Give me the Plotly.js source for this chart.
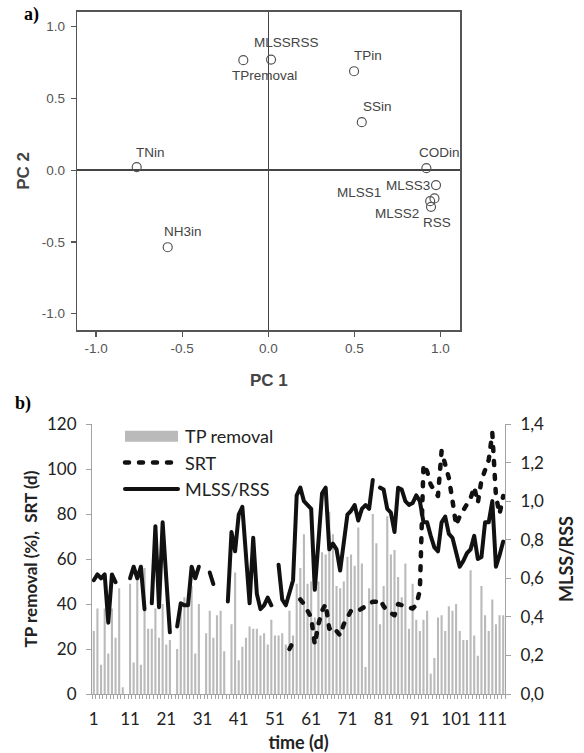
<!DOCTYPE html>
<html>
<head>
<meta charset="utf-8">
<script src="https://cdn.plot.ly/plotly-3.0.1.min.js"></script>
<style>
html,body{margin:0;padding:0;background:#ffffff;}
#chart{width:584px;height:753px;}
.scatterlayer .js-line{stroke-linecap:round;stroke-linejoin:round;}
.legend .js-line{stroke-linecap:round;}
</style>
</head>
<body>
<div id="chart"></div>
<script>
// ---------- Panel a: PCA loadings ----------
const pcaNames = ['TPremoval','MLSSRSS','TPin','SSin','TNin','CODin','MLSS3','MLSS1','MLSS2','RSS','NH3in'];
const pc1 = [-0.145, 0.016, 0.498, 0.543, -0.764, 0.918, 0.974, 0.965, 0.940, 0.945, -0.584];
const pc2 = [0.767, 0.771, 0.690, 0.335, 0.021, 0.014, -0.104, -0.197, -0.216, -0.255, -0.537];
const pcaTickVals = [-1, -0.5, 0, 0.5, 1];
const pcaTickText = ['-1.0', '-0.5', '0.0', '0.5', '1.0'];

// ---------- Panel b: time series ----------
const days = [1,2,3,4,5,6,7,8,9,10,11,12,13,14,15,16,17,18,19,20,
  21,22,23,24,25,26,27,28,29,30,31,32,33,34,35,36,37,38,39,40,
  41,42,43,44,45,46,47,48,49,50,51,52,53,54,55,56,57,58,59,60,
  61,62,63,64,65,66,67,68,69,70,71,72,73,74,75,76,77,78,79,80,
  81,82,83,84,85,86,87,88,89,90,91,92,93,94,95,96,97,98,99,100,
  101,102,103,104,105,106,107,108,109,110,111,112,113,114];
const tpRemoval = [
  28,38,13,38,18,38,25,47,3,null,
  49,14,52,13,56,29,29,38,25,40,
  22,24,null,20,40,43,42,48,18,40,
  null,27,37,25,35,37,19,null,31,54,
  15,21,25,30,29,29,26,27,22,33,
  26,26,27,22,37,26,49,56,71,49,
  50,34,50,63,62,81,71,48,47,50,
  61,62,57,74,58,12,47,80,67,31,
  48,79,62,64,52,43,58,29,49,33,
  28,33,37,9,16,34,35,28,39,37,
  40,28,24,24,55,26,17,48,35,28,
  42,31,35,35];
const srt = [
  null,null,null,null,null,null,null,null,null,null,
  null,null,null,null,null,null,null,null,null,null,
  null,null,null,null,null,null,null,null,null,null,
  null,null,null,null,null,null,null,null,null,null,
  null,null,null,null,null,null,null,null,null,null,
  null,null,null,null,20,23,null,42,40,37,
  34,22,31,37,40,29,30,28,26,31,
  34,37,37,37,38,39,40,41,41,42,
  39,37,36,35,40,39.5,39,38,38,39.5,
  46,102,99,93,90,88,108,101,96,86,
  75,79,82,85,87,92,85,95,99,104,
  116,88,80,88];
const mlssRss = [
  0.59,0.62,0.60,0.62,0.37,0.62,0.58,null,null,null,
  0.60,0.66,0.60,0.66,0.44,null,0.47,0.87,0.45,0.89,
  0.60,0.32,null,0.35,0.47,0.46,0.46,0.66,0.60,0.66,
  null,null,0.63,0.57,null,null,null,0.48,0.84,0.74,
  0.93,0.97,0.69,0.47,0.81,0.52,0.44,0.46,0.50,0.46,
  null,0.67,0.49,0.46,0.52,0.59,1.03,1.07,1.00,0.98,
  0.96,0.54,0.80,1.04,1.07,0.75,0.78,0.75,0.64,0.80,
  0.93,0.95,0.98,0.90,0.96,0.98,0.96,1.11,null,1.07,
  1.06,0.96,0.94,0.84,1.07,1.06,1.00,0.98,0.99,1.03,
  1.00,0.89,0.89,0.82,0.76,0.74,0.89,0.92,0.83,0.81,
  0.74,0.66,0.69,0.73,0.75,0.82,0.70,0.71,0.89,0.89,
  1.00,0.66,0.72,0.79];
const dayTickVals = [1,11,21,31,41,51,61,71,81,91,101,111];
const dayTickText = ['1','11','21','31','41','51','61','71','81','91','101','111'];
const leftTickVals = [0,20,40,60,80,100,120];
const rightTickVals = [0,0.2,0.4,0.6,0.8,1.0,1.2,1.4];
const rightTickText = ['0,0','0,2','0,4','0,6','0,8','1,0','1,2','1,4'];

// label offsets (px) for the PCA point labels
const labelDx = [21, 15, 14, 16, 14, 13, -28, -75, -33, 6, 15];
const labelDy = [-15, 17, 16, 16, 15, 16, 0, 6, -12, -16, 16];

const armFont = 'Liberation Sans, Arial, sans-serif';
const calFont = 'Lato, Carlito, Calibri, sans-serif';
const greyAx = '#a3a3a3';

const traces = [
  {type:'scatter', mode:'markers', x:pc1, y:pc2, xaxis:'x', yaxis:'y', showlegend:false,
   marker:{symbol:'circle-open', size:9, color:'#555', line:{width:1.2, color:'#555'}}, hoverinfo:'text', text:pcaNames},
  {type:'bar', name:'TP removal', x:days, y:tpRemoval, xaxis:'x2', yaxis:'y2',
   marker:{color:'#bababa', line:{width:0}}},
  {type:'scatter', mode:'lines', name:'SRT', x:days, y:srt, xaxis:'x2', yaxis:'y2', connectgaps:false,
   line:{color:'#111', width:4.5, dash:'4px,10px'}},
  {type:'scatter', mode:'lines', name:'MLSS/RSS', x:days, y:mlssRss, xaxis:'x2', yaxis:'y3', connectgaps:false,
   line:{color:'#111', width:4}}
];

const annotations = pcaNames.map((n,i)=>({
  x:pc1[i], y:pc2[i], xref:'x', yref:'y', text:n, showarrow:false,
  xshift:labelDx[i], yshift:labelDy[i], xanchor:'center', yanchor:'middle',
  font:{family:armFont, size:13.5, color:'#444'}
}));
annotations.push({x:31/584, y:1-15/753, xref:'paper', yref:'paper', text:'<b>a)</b>', showarrow:false,
  xanchor:'center', yanchor:'middle', font:{family:'Liberation Serif, Times New Roman, serif', size:18, color:'#000'}});
annotations.push({x:23/584, y:1-403/753, xref:'paper', yref:'paper', text:'<b>b)</b>', showarrow:false,
  xanchor:'center', yanchor:'middle', font:{family:'Liberation Serif, Times New Roman, serif', size:18, color:'#000'}});

const layout = {
  width:584, height:753,
  margin:{l:0, r:0, t:0, b:0},
  paper_bgcolor:'#ffffff', plot_bgcolor:'rgba(0,0,0,0)',
  font:{family:armFont, color:'#333'},
  showlegend:true,
  bargap:0.42,
  xaxis:{domain:[77.3/584, 460.3/584], anchor:'y', range:[-1.109, 1.115],
    tickmode:'array', tickvals:pcaTickVals, ticktext:pcaTickText,
    ticks:'outside', ticklen:5, tickcolor:'#555', tickwidth:1.2,
    showline:true, mirror:true, linecolor:'#555', linewidth:1.5,
    zeroline:true, zerolinecolor:'#444', zerolinewidth:1.5, showgrid:false,
    tickfont:{family:armFont, size:13.5, color:'#555'},
    title:{text:'<b>PC 1</b>', font:{family:armFont, size:17, color:'#444'}, standoff:19}},
  yaxis:{domain:[1-330/753, 1-11.7/753], anchor:'x', range:[-1.114, 1.105],
    tickmode:'array', tickvals:pcaTickVals, ticktext:pcaTickText,
    ticks:'outside', ticklen:5, tickcolor:'#555', tickwidth:1.2,
    showline:true, mirror:true, linecolor:'#555', linewidth:1.5,
    zeroline:true, zerolinecolor:'#444', zerolinewidth:1.5, showgrid:false,
    tickfont:{family:armFont, size:13.5, color:'#555'}, ticklabelstandoff:3,
    title:{text:'<b>PC 2</b>', font:{family:armFont, size:17, color:'#444'}, standoff:8}},
  xaxis2:{domain:[92/584, 505/584], anchor:'y2', range:[0.5, 114.5],
    tickmode:'array', tickvals:dayTickVals, ticktext:dayTickText,
    ticks:'', showline:true, linecolor:greyAx, linewidth:1, showgrid:false, zeroline:false,
    minor:{tickmode:'linear', tick0:0.5, dtick:1, ticks:'outside', ticklen:4, tickcolor:greyAx, tickwidth:1, showgrid:false},
    tickfont:{family:calFont, size:17, color:'#222'}, ticklabelstandoff:10,
    title:{text:'<b>time (d)</b>', font:{family:calFont, size:18, color:'#222'}, standoff:9}},
  yaxis2:{domain:[1-694/753, 1-424/753], anchor:'x2', range:[0, 120],
    tickmode:'array', tickvals:leftTickVals,
    ticks:'outside', ticklen:5, tickcolor:greyAx, showline:true, linecolor:greyAx, linewidth:1,
    showgrid:false, zeroline:false, ticklabelstandoff:6,
    tickfont:{family:calFont, size:17, color:'#222'},
    title:{text:'<b>TP removal (%),\u00a0 SRT (d)</b>', font:{family:calFont, size:17, color:'#222'}, standoff:5}},
  yaxis3:{overlaying:'y2', side:'right', anchor:'x2', range:[0, 1.4],
    tickmode:'array', tickvals:rightTickVals, ticktext:rightTickText,
    ticks:'outside', ticklen:5, tickcolor:greyAx, showline:true, linecolor:greyAx, linewidth:1,
    showgrid:false, zeroline:false, ticklabelstandoff:6,
    tickfont:{family:calFont, size:17, color:'#222'},
    title:{text:'<b>MLSS/RSS</b>', font:{family:calFont, size:18, color:'#222'}, standoff:17}},
  legend:{x:120/584, y:1-418/753, xanchor:'left', yanchor:'top', bgcolor:'rgba(0,0,0,0)',
    font:{family:calFont, size:18, color:'#222'}, itemwidth:55, tracegroupgap:0},
  annotations:annotations
};

function fixLegend(){
  document.querySelectorAll('.legend .traces').forEach(function(t){
    t.querySelectorAll('.legendlines path').forEach(function(p){ p.setAttribute('d','M5,0h53'); });
    t.querySelectorAll('.legendpoints path').forEach(function(p){
      p.removeAttribute('transform');
      p.setAttribute('d','M5,-5.5h53v11h-53z');
    });
  });
}

Plotly.newPlot('chart', traces, layout, {staticPlot:true, displayModeBar:false}).then(fixLegend);
</script>
</body>
</html>
